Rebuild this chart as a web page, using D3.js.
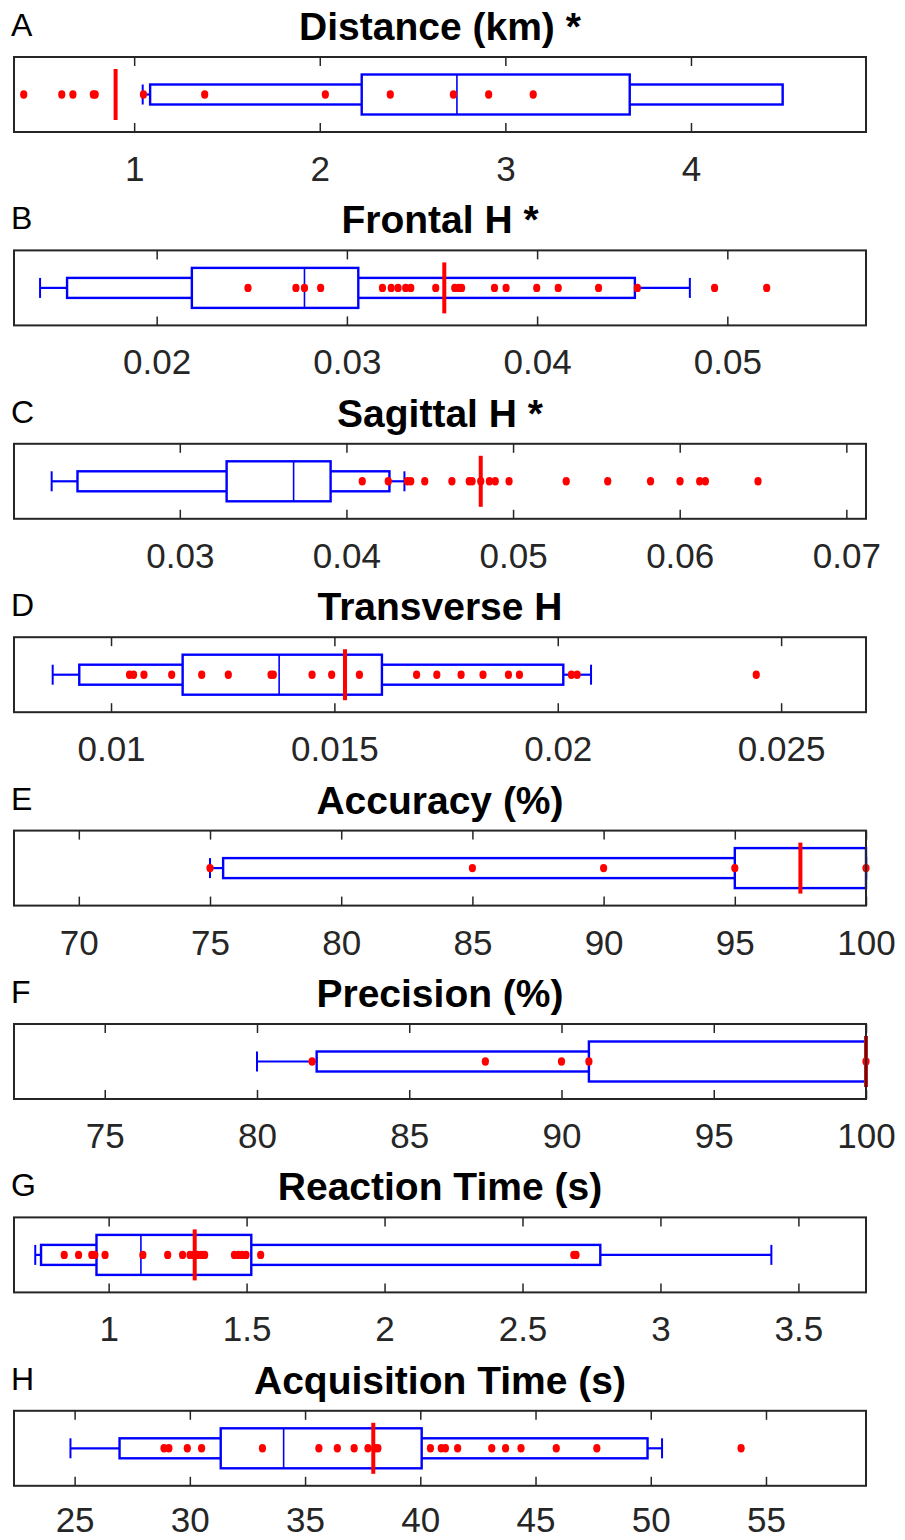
<!DOCTYPE html>
<html>
<head>
<meta charset="utf-8">
<script src="https://cdn.jsdelivr.net/npm/d3@7"></script>
<style>
  html, body { margin: 0; padding: 0; background: #fff; }
  svg { display: block; }
</style>
</head>
<body>
<svg id="chart" width="905" height="1540"></svg>
<script>
// ---------------- DATA ----------------
const letters = ["A", "B", "C", "D", "E", "F", "G", "H"];
const titles = ["Distance (km) *", "Frontal H *", "Sagittal H *", "Transverse H",
  "Accuracy (%)", "Precision (%)", "Reaction Time (s)", "Acquisition Time (s)"];
const domains = [[0.3526, 4.943], [0.0125, 0.05729], [0.02005, 0.07118], [0.007828, 0.0269],
  [67.53, 100], [72.02, 100], [0.657, 3.745], [22.37, 59.34]];
const tickValues = [
  [1, 2, 3, 4],
  [0.02, 0.03, 0.04, 0.05],
  [0.03, 0.04, 0.05, 0.06, 0.07],
  [0.01, 0.015, 0.02, 0.025],
  [70, 75, 80, 85, 90, 95, 100],
  [75, 80, 85, 90, 95, 100],
  [1, 1.5, 2, 2.5, 3, 3.5],
  [25, 30, 35, 40, 45, 50, 55]
];
const tickLabels = [
  ["1", "2", "3", "4"],
  ["0.02", "0.03", "0.04", "0.05"],
  ["0.03", "0.04", "0.05", "0.06", "0.07"],
  ["0.01", "0.015", "0.02", "0.025"],
  ["70", "75", "80", "85", "90", "95", "100"],
  ["75", "80", "85", "90", "95", "100"],
  ["1", "1.5", "2", "2.5", "3", "3.5"],
  ["25", "30", "35", "40", "45", "50", "55"]
];
const whiskerLo = [1.046, 0.01387, 0.02231, 0.008694, 75.0, 80.0, 0.734, 24.82];
const outerLo   = [1.086, 0.01529, 0.02386, 0.009289, 75.5, 81.96, 0.755, 26.95];
const q1        = [2.226, 0.02185, 0.03281, 0.011603, 95.0, 90.9, 0.956, 31.34];
const median    = [2.739, 0.02777, 0.03683, 0.013763, 100, 100, 1.117, 34.07];
const q3        = [3.670, 0.03060, 0.03905, 0.016064, 100, 100, 1.517, 40.06];
const outerHi   = [4.494, 0.04514, 0.04258, 0.020124, 100, 100, 2.782, 49.86];
const whiskerHi = [4.494, 0.04803, 0.04348, 0.020745, 100, 100, 3.402, 50.49];
const refValue  = [0.90, 0.03512, 0.04806, 0.015237, 97.5, 100, 1.312, 37.96];

const pointsA = [0.405, 0.61, 0.67, 0.78, 0.79, 1.05, 1.38, 2.03, 2.38, 2.72, 2.91, 3.15];
const pointsB = [0.02480, 0.02732, 0.02777, 0.02862, 0.03187, 0.03233, 0.03269, 0.03309, 0.03336,
  0.03467, 0.03567, 0.03588, 0.03603, 0.03776, 0.03837, 0.03998, 0.04111, 0.04323, 0.04527,
  0.04933, 0.05207];
const pointsC = [0.04095, 0.04251, 0.04366, 0.04386, 0.04470, 0.04633, 0.04737, 0.04754, 0.04806,
  0.04858, 0.04893, 0.04976, 0.05319, 0.05568, 0.05825, 0.06002, 0.06120, 0.06154, 0.06470];
const pointsD = [0.010414, 0.010504, 0.010737, 0.011358, 0.012030, 0.012625, 0.013582, 0.013633,
  0.014500, 0.014939, 0.015560, 0.016840, 0.017293, 0.017836, 0.018327, 0.018896, 0.019142,
  0.020305, 0.020434, 0.024443];
const pointsE = [75, 85, 90, 95, 100];
const pointsF = [81.81, 87.5, 90.0, 90.9, 100];
const pointsG = [0.839, 0.891, 0.939, 0.950, 0.987, 1.124, 1.214, 1.268, 1.295, 1.310, 1.322,
  1.337, 1.348, 1.456, 1.471, 1.484, 1.498, 1.551, 2.686, 2.694];
const pointsH = [28.88, 29.09, 29.89, 30.51, 33.15, 35.60, 36.40, 37.13, 37.73, 38.03, 38.16,
  40.44, 40.91, 41.09, 41.62, 43.10, 43.70, 44.37, 45.90, 47.66, 53.92];
const points = [pointsA, pointsB, pointsC, pointsD, pointsE, pointsF, pointsG, pointsH];

// ---------------- LAYOUT ----------------
const left = 14, right = 866;
const firstTop = 57, step = 193.4, frameH = 75;
const wideHalf = 20, narrowHalf = 10, refHalf = 25.5, tickLen = 9;
const frameColor = "#262626";
const blue = "#0000ff", red = "#ff0000";
const font = "'Liberation Sans', Arial, Helvetica, sans-serif";

const svg = d3.select("#chart");

letters.forEach((letter, i) => {
  const top = firstTop + i * step;
  const cy = top + frameH / 2;
  const x = d3.scaleLinear().domain(domains[i]).range([left, right]);
  const g = svg.append("g");

  // title + letter
  g.append("text").attr("x", (left + right) / 2).attr("y", top - 17)
    .attr("text-anchor", "middle").attr("font-family", font).attr("font-weight", "bold")
    .attr("font-size", 39).attr("fill", "#000").text(titles[i]);
  g.append("text").attr("x", 11).attr("y", top - 21)
    .attr("font-family", font).attr("font-size", 32).attr("fill", "#000").text(letter);

  // axes (ticks inside)
  const labels = tickLabels[i];
  const labelOffset = i === letters.length - 1 ? 46 : 49;
  const bottomAxis = d3.axisBottom(x).tickValues(tickValues[i])
    .tickSize(-tickLen).tickFormat((d, k) => labels[k]);
  const ab = g.append("g").attr("transform", `translate(0,${top + frameH})`).call(bottomAxis);
  ab.select(".domain").remove();
  ab.selectAll(".tick line").attr("stroke", frameColor).attr("stroke-width", 1.5);
  ab.selectAll(".tick text").attr("y", labelOffset).attr("dy", 0)
    .attr("font-family", font).attr("font-size", 35).attr("fill", "#262626");

  const topAxis = d3.axisTop(x).tickValues(tickValues[i]).tickSize(-tickLen).tickFormat("");
  const at = g.append("g").attr("transform", `translate(0,${top})`).call(topAxis);
  at.select(".domain").remove();
  at.selectAll(".tick line").attr("stroke", frameColor).attr("stroke-width", 1.5);

  // whiskers
  if (whiskerLo[i] < outerLo[i]) {
    g.append("line").attr("x1", x(whiskerLo[i])).attr("x2", x(outerLo[i]))
      .attr("y1", cy).attr("y2", cy).attr("stroke", blue).attr("stroke-width", 2.2);
    g.append("line").attr("x1", x(whiskerLo[i])).attr("x2", x(whiskerLo[i]))
      .attr("y1", cy - narrowHalf).attr("y2", cy + narrowHalf).attr("stroke", blue).attr("stroke-width", 2);
  }
  if (whiskerHi[i] > outerHi[i]) {
    g.append("line").attr("x1", x(outerHi[i])).attr("x2", x(whiskerHi[i]))
      .attr("y1", cy).attr("y2", cy).attr("stroke", blue).attr("stroke-width", 2.2);
    g.append("line").attr("x1", x(whiskerHi[i])).attr("x2", x(whiskerHi[i]))
      .attr("y1", cy - narrowHalf).attr("y2", cy + narrowHalf).attr("stroke", blue).attr("stroke-width", 2);
  }

  // narrow (outer percentile) box
  g.append("rect").attr("x", x(outerLo[i])).attr("width", x(outerHi[i]) - x(outerLo[i]))
    .attr("y", cy - narrowHalf).attr("height", 2 * narrowHalf)
    .attr("fill", "#fff").attr("stroke", blue).attr("stroke-width", 2.4);
  // wide (interquartile) box
  g.append("rect").attr("x", x(q1[i])).attr("width", x(q3[i]) - x(q1[i]))
    .attr("y", cy - wideHalf).attr("height", 2 * wideHalf)
    .attr("fill", "#fff").attr("stroke", blue).attr("stroke-width", 2.4);
  // median
  g.append("line").attr("x1", x(median[i])).attr("x2", x(median[i]))
    .attr("y1", cy - wideHalf).attr("y2", cy + wideHalf).attr("stroke", blue).attr("stroke-width", 1.6);

  // points
  g.selectAll("ellipse.pt").data(points[i]).join("ellipse").attr("class", "pt")
    .attr("cx", d => x(d)).attr("cy", cy).attr("rx", 3.6).attr("ry", 4.2).attr("fill", red);

  // reference line
  g.append("line").attr("x1", x(refValue[i])).attr("x2", x(refValue[i]))
    .attr("y1", cy - refHalf).attr("y2", cy + refHalf).attr("stroke", red).attr("stroke-width", 4);

  // frame
  g.append("rect").attr("x", left).attr("y", top).attr("width", right - left).attr("height", frameH)
    .attr("fill", "none").attr("stroke", frameColor).attr("stroke-width", 2);
});
</script>
</body>
</html>
